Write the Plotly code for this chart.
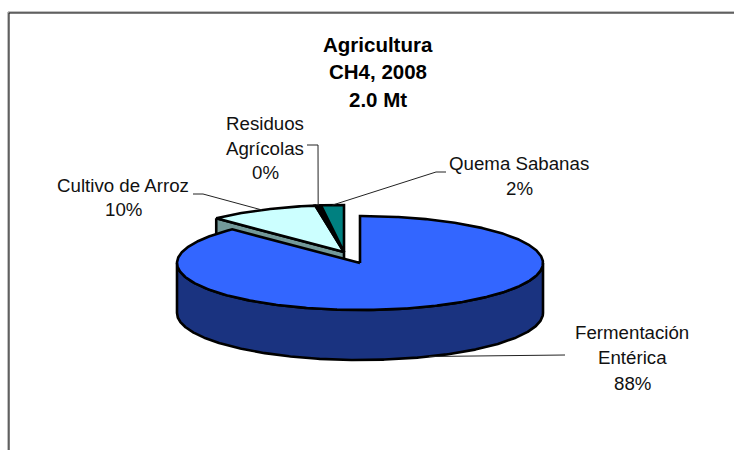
import numpy as np
import plotly.graph_objects as go

# Data
categories = ["Fermentación Entérica", "Cultivo de Arroz", "Residuos Agrícolas", "Quema Sabanas"]
values = [87.7, 9.8, 0.49, 2.01]
label_pct = ["88%", "10%", "0%", "2%"]
title_lines = ["Agricultura", "CH4, 2008", "2.0 Mt"]

colors = ["#3366FF", "#CCFFFF", "#000000", "#008080"]
side_colors = ["#1A3380", "#739999", "#000000", "#004040"]

# Fake 3D pie geometry, in page pixels
RX, RY, DEPTH = 183, 47, 50
CENTERS = [(360, 263), (344, 252), (344, 252), (344, 252)]   # first slice is pulled out

# label text: lines, centre x, line y positions; leader elbow points
label_lines = [["Fermentación", "Entérica", "88%"], ["Cultivo de Arroz", "10%"],
               ["Residuos", "Agrícolas", "0%"], ["Quema Sabanas", "2%"]]
label_x = [632, 123, 265, 519]
label_y = [[332, 357, 383], [185, 209], [123, 148, 172], [163, 188]]
leader_start = [[(565, 355), (565, 355)], [(193, 194), (203, 194)],
                [(307, 145), (318, 145)], [(446, 172), (436, 172)]]


def rim(center, deg, drop=0):
    a = np.radians(deg)
    return center[0] + RX * np.sin(a), center[1] - RY * np.cos(a) + drop


def arc(center, a0, a1, drop=0):
    angles = np.linspace(a0, a1, max(int(abs(a1 - a0)) * 2, 6))
    return rim(center, angles, drop)


def poly(fig, xs, ys, fill, width=2.6):
    fig.add_trace(go.Scatter(x=list(xs), y=list(ys), mode="lines", fill="toself", fillcolor=fill,
                             line=dict(color="black", width=width), hoverinfo="skip", showlegend=False))


edges = np.concatenate([[0], np.cumsum(values) / np.sum(values) * 360])
mids = (edges[:-1] + edges[1:]) / 2

fig = go.Figure()

# frame, only top and left sides show
fig.add_shape(type="line", x0=8, y0=450, x1=8, y1=12, line=dict(color="#808080", width=1))
fig.add_shape(type="line", x0=8, y0=12, x1=734, y1=12, line=dict(color="#808080", width=1))
fig.add_shape(type="line", x0=9, y0=450, x1=9, y1=13, line=dict(color="black", width=1))
fig.add_shape(type="line", x0=9, y0=13, x1=734, y1=13, line=dict(color="black", width=1))

# small slices: cut face of the group, then the top faces
c = CENTERS[1]
tx, ty = rim(c, edges[1])
poly(fig, [tx, c[0], c[0], tx, tx], [ty, c[1], c[1] + DEPTH, ty + DEPTH, ty], side_colors[1])
for i in [1, 2, 3]:
    c = CENTERS[i]
    ax, ay = arc(c, edges[i], edges[i + 1])
    poly(fig, [c[0], *ax, c[0]], [c[1], *ay, c[1]], colors[i])

# large slice: outer wall (only the front half shows), then top face
c = CENTERS[0]
ax, ay = arc(c, 90, 270)
bx, by = arc(c, 270, 90, DEPTH)
poly(fig, [*ax, *bx, ax[0]], [*ay, *by, ay[0]], side_colors[0])
ax, ay = arc(c, edges[0], edges[1])
poly(fig, [c[0], *ax, c[0]], [c[1], *ay, c[1]], colors[0])

# leader lines run from the label to the rim at the middle of each slice
for i in range(len(values)):
    ex, ey = rim(CENTERS[i], mids[i], DEPTH if i == 0 else 0)
    pts = leader_start[i] + [(ex, ey)]
    fig.add_trace(go.Scatter(x=[p[0] for p in pts], y=[p[1] for p in pts], mode="lines",
                             line=dict(color="#222222", width=1), hoverinfo="skip", showlegend=False))

# texts, one annotation per line so the line pitch can follow the original
font = "Liberation Sans, Arial, sans-serif"
for line, y in zip(title_lines, [44, 71, 99]):
    fig.add_annotation(x=378, y=y, text=f"<b>{line}</b>", showarrow=False, xref="x", yref="y",
                       font=dict(family=font, size=20.5, color="black"))
for lines, x, ys in zip(label_lines, label_x, label_y):
    for line, y in zip(lines, ys):
        fig.add_annotation(x=x, y=y, text=line, showarrow=False, xref="x", yref="y",
                           font=dict(family=font, size=18.7, color="#111111"))

fig.update_xaxes(range=[0, 734], visible=False, fixedrange=True)
fig.update_yaxes(range=[450, 0], visible=False, fixedrange=True)
fig.update_layout(width=734, height=450, margin=dict(l=0, r=0, t=0, b=0),
                  paper_bgcolor="white", plot_bgcolor="white", showlegend=False)

# page has a default body margin that would push the figure 8px off
fig.write_html("out.html", config={"displayModeBar": False},
               post_script="document.body.style.margin='0';")
